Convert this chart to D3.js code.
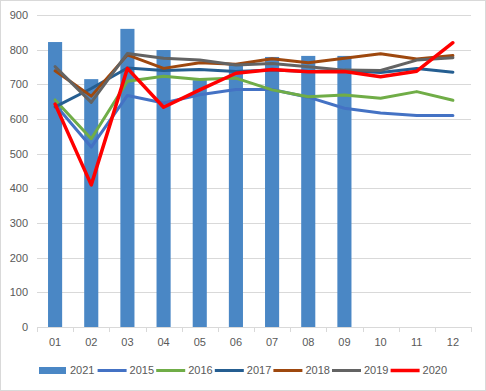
<!DOCTYPE html>
<html><head><meta charset="utf-8">
<script src="https://cdn.jsdelivr.net/npm/d3@7"></script>
<style>body{margin:0;background:#fff;}svg{display:block;font-family:"Liberation Sans",Arial,sans-serif;}</style>
</head><body>
<svg id="c" width="486" height="391"></svg>
<script>
const months = ["01","02","03","04","05","06","07","08","09","10","11","12"];
const yTicks = [0,100,200,300,400,500,600,700,800,900];
const bars2021 = [822,715,860,799,712,761,779,782,782,null,null,null];
const s2015 = [642,519,668,646,670,685,685,663,631,617,610,610];
const s2016 = [655,543,709,723,714,718,684,664,669,660,679,654];
const s2017 = [635,688,747,740,743,737,741,737,740,734,746,735];
const s2018 = [739,666,785,746,762,758,774,762,775,788,773,783];
const s2019 = [751,648,789,775,770,756,760,751,741,740,770,777];
const s2020 = [643,410,746,634,684,732,743,736,737,722,738,820];

const series = [
  {name:"2015", values:s2015, color:"#4472c4", w:3},
  {name:"2016", values:s2016, color:"#70ad47", w:3},
  {name:"2017", values:s2017, color:"#255e91", w:3},
  {name:"2018", values:s2018, color:"#9e480e", w:3},
  {name:"2019", values:s2019, color:"#636363", w:3},
  {name:"2020", values:s2020, color:"#ff0000", w:3.5}
];
const barColor = "#4a87c5";

(function(){
const svg = d3.select("#c");
svg.append("rect").attr("x",0.5).attr("y",0.5).attr("width",485).attr("height",390)
  .attr("fill","#fff").attr("stroke","#d9d9d9");

const pl=37, pr=471, pt=15, pb=327;
const x = d3.scaleBand().domain(months).range([pl,pr]);
const y = d3.scaleLinear().domain([0,900]).range([pb,pt]);

svg.append("g").selectAll("line").data(yTicks.filter(d=>d>0)).join("line")
  .attr("x1",pl).attr("x2",pr).attr("y1",d=>Math.round(y(d))+0.5).attr("y2",d=>Math.round(y(d))+0.5)
  .attr("stroke","#d9d9d9").attr("stroke-width",1);

svg.append("g").selectAll("text").data(yTicks).join("text")
  .attr("x",28).attr("y",d=>y(d)).attr("dy","0.35em").attr("text-anchor","end")
  .attr("font-size",11).attr("fill","#595959").text(d=>d);

const bw = x.bandwidth()*0.39;
svg.append("g").selectAll("rect").data(months.map((m,i)=>({m,v:bars2021[i]})).filter(d=>d.v!=null)).join("rect")
  .attr("x",d=>x(d.m)+x.bandwidth()/2-bw/2).attr("width",bw)
  .attr("y",d=>y(d.v)).attr("height",d=>y(0)-y(d.v)).attr("fill",barColor);

const xa = svg.append("g");
xa.append("line").attr("x1",pl).attr("x2",pr).attr("y1",pb+0.5).attr("y2",pb+0.5).attr("stroke","#d9d9d9");
xa.selectAll("line.t").data(d3.range(months.length+1)).join("line").attr("class","t")
  .attr("x1",i=>Math.round(pl+i*x.step())+0.5).attr("x2",i=>Math.round(pl+i*x.step())+0.5)
  .attr("y1",pb).attr("y2",pb+5).attr("stroke","#d9d9d9");
xa.selectAll("text").data(months).join("text")
  .attr("x",d=>x(d)+x.bandwidth()/2).attr("y",342).attr("dy","0.35em").attr("text-anchor","middle")
  .attr("font-size",11).attr("fill","#595959").text(d=>d);

const line = d3.line().x((d,i)=>x(months[i])+x.bandwidth()/2).y(d=>y(d));
svg.append("g").selectAll("path").data(series).join("path")
  .attr("d",d=>line(d.values)).attr("fill","none").attr("stroke",d=>d.color)
  .attr("stroke-width",d=>d.w).attr("stroke-linejoin","round").attr("stroke-linecap","round");

const leg = svg.append("g");
const entries = [{name:"2021",color:barColor,bar:true}].concat(series);
entries.forEach((e,i)=>{
  const x0 = 39 + i*58.6;
  if(e.bar){
    leg.append("rect").attr("x",x0).attr("y",367).attr("width",27).attr("height",7).attr("fill",e.color);
  } else {
    leg.append("line").attr("x1",x0).attr("x2",x0+29).attr("y1",370.5).attr("y2",370.5)
      .attr("stroke",e.color).attr("stroke-width",e.w);
  }
  leg.append("text").attr("x",x0+(e.bar?31:32)).attr("y",370.5).attr("dy","0.35em")
    .attr("font-size",11).attr("fill","#595959").text(e.name);
});
})();
</script>
</body></html>
